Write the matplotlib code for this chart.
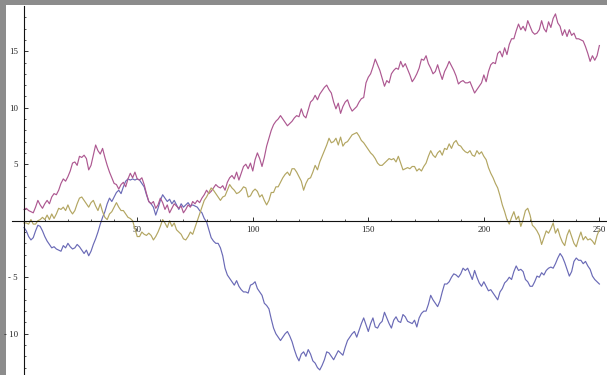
import numpy as np
import matplotlib
matplotlib.use("Agg")
import matplotlib.pyplot as plt
from matplotlib.patches import Rectangle
from matplotlib.ticker import FixedLocator, FixedFormatter

# Three random-walk paths, one value per step (steps 1..250)
walk_blue = [
    -0.6, -0.9, -1.4, -1.7, -1.5, -0.9, -0.4, -0.5, -0.9, -1.4,
    -1.8, -2.1, -2.4, -2.3, -2.5, -2.6, -2.7, -2.2, -2.4, -2.0,
    -2.3, -2.5, -2.4, -2.1, -2.3, -2.6, -2.9, -2.6, -3.1, -2.7,
    -2.1, -1.6, -1.0, -0.3, 0.3, 0.8, 1.5, 2.0, 1.7, 2.1,
    2.5, 2.7, 2.4, 3.0, 3.5, 3.7, 3.6, 3.7, 3.6, 3.7,
    3.6, 3.3, 3.0, 2.3, 1.7, 1.5, 1.2, 0.5, 1.1, 1.8,
    2.3, 2.0, 1.7, 1.9, 1.5, 1.8, 1.4, 1.0, 1.5, 1.2,
    1.4, 1.6, 1.3, 1.4, 1.3, 1.2, 0.9, 0.7, 0.2, -0.1,
    -0.8, -1.5, -1.8, -2.0, -2.0, -2.4, -3.1, -4.2, -4.8, -5.1,
    -5.4, -5.7, -5.3, -5.8, -6.1, -6.3, -6.3, -6.4, -5.7, -5.6,
    -5.4, -6.0, -6.3, -6.6, -7.3, -7.5, -7.8, -8.7, -9.5, -10.0,
    -10.3, -10.6, -10.3, -10.0, -9.8, -10.2, -10.7, -11.4, -12.0, -12.4,
    -11.8, -11.6, -12.0, -11.4, -11.8, -12.4, -12.6, -13.0, -13.2, -12.8,
    -12.3, -11.6, -11.7, -12.0, -12.3, -11.9, -11.5, -11.7, -11.9, -11.2,
    -10.6, -10.3, -10.0, -9.8, -10.3, -9.7, -9.1, -8.6, -9.2, -9.8,
    -9.1, -8.6, -9.4, -9.5, -9.1, -8.9, -8.1, -8.6, -9.1, -9.5,
    -8.8, -8.5, -8.9, -9.0, -8.3, -8.5, -8.9, -9.0, -9.1, -8.8,
    -9.4, -8.6, -8.2, -8.0, -8.0, -7.4, -6.6, -7.0, -7.3, -7.6,
    -7.1, -6.3, -5.6, -5.6, -5.4, -5.0, -4.7, -4.8, -5.0, -4.7,
    -4.2, -4.4, -4.2, -4.7, -5.2, -4.4, -5.0, -5.5, -5.8, -5.4,
    -5.8, -6.2, -6.1, -6.4, -6.7, -7.0, -6.3, -6.0, -5.5, -5.3,
    -5.0, -5.2, -4.5, -4.0, -4.4, -4.3, -4.5, -5.2, -5.4, -5.8,
    -5.8, -5.4, -4.9, -5.0, -4.6, -4.8, -4.4, -4.2, -4.1, -4.2,
    -3.8, -3.3, -2.9, -3.2, -3.7, -4.3, -4.9, -4.5, -3.6, -3.3,
    -3.5, -3.5, -3.8, -3.6, -4.0, -4.3, -4.9, -5.2, -5.4, -5.6,
]

walk_magenta = [
    1.0, 1.1, 0.9, 0.8, 0.7, 1.2, 1.8, 1.4, 1.1, 1.5,
    1.8, 1.5, 2.1, 2.4, 2.3, 2.7, 3.3, 3.7, 3.5, 3.9,
    4.4, 5.1, 5.2, 4.9, 5.7, 5.6, 5.8, 5.5, 4.5, 4.9,
    5.8, 6.7, 6.2, 5.9, 6.4, 5.6, 4.9, 4.3, 3.8, 3.3,
    3.2, 2.8, 3.2, 3.4, 3.0, 3.7, 4.2, 3.8, 4.3, 3.7,
    3.6, 3.8, 3.2, 2.4, 1.7, 1.5, 1.7, 1.1, 1.4, 2.0,
    1.6, 1.0, 1.4, 0.7, 1.1, 1.5, 1.3, 1.1, 1.3, 0.7,
    1.0, 1.4, 1.2, 1.7, 1.5, 1.8, 1.6, 2.0, 2.3, 2.7,
    2.4, 2.6, 2.9, 3.2, 3.0, 2.9, 3.1, 2.7, 3.4, 3.8,
    4.0, 3.7, 4.3, 3.6, 4.2, 4.8, 5.0, 4.6, 5.1, 4.4,
    5.4, 6.0, 5.5, 4.8, 5.6, 6.6, 7.3, 8.0, 8.5, 8.8,
    9.0, 9.3, 9.0, 8.7, 8.4, 8.6, 8.8, 9.1, 9.3, 9.2,
    9.9, 9.3, 9.1, 9.8, 10.5, 10.7, 11.1, 10.7, 11.2, 11.5,
    11.8, 12.0, 11.6, 11.3, 10.5, 9.9, 10.4, 9.5, 10.1, 10.5,
    10.7, 10.1, 9.7, 9.9, 10.1, 10.5, 10.8, 10.9, 12.2, 12.7,
    13.0, 13.6, 14.3, 13.8, 13.3, 12.6, 11.9, 12.4, 12.2, 13.0,
    13.3, 13.5, 13.4, 14.1, 13.6, 13.9, 13.4, 12.9, 12.3, 12.6,
    13.0, 13.5, 14.3, 14.2, 14.6, 13.9, 13.5, 13.0, 13.2, 13.8,
    13.1, 12.5, 13.2, 13.6, 14.1, 13.7, 13.3, 12.8, 12.1, 12.3,
    12.4, 12.2, 12.2, 12.3, 11.8, 11.3, 11.6, 11.9, 12.2, 12.9,
    12.3, 13.2, 13.8, 14.0, 13.9, 14.8, 15.0, 14.5, 15.3, 14.7,
    15.6, 16.1, 16.1, 16.8, 17.4, 16.9, 17.2, 16.8, 17.7, 17.2,
    16.7, 16.5, 16.6, 16.9, 17.7, 17.0, 16.7, 17.6, 17.1, 17.9,
    18.3, 17.5, 17.2, 16.4, 16.9, 16.3, 16.9, 16.4, 16.6, 16.1,
    16.1, 16.0, 15.9, 15.4, 14.8, 14.1, 14.6, 14.2, 14.6, 15.5,
]

walk_olive = [
    -0.2, -0.2, -0.3, 0.1, -0.3, -0.3, 0.0, 0.1, 0.3, 0.1,
    0.5, 0.1, 0.6, 0.2, 0.6, 1.1, 1.0, 1.2, 0.9, 1.4,
    0.9, 0.6, 0.9, 1.5, 2.0, 2.1, 1.8, 1.5, 1.2, 1.6,
    1.8, 1.3, 0.9, 1.5, 0.8, 0.3, 0.1, 0.6, 0.8, 1.2,
    1.6, 1.2, 0.9, 0.9, 0.6, 0.3, 0.2, 0.0, -0.7, -1.4,
    -1.4, -1.0, -1.2, -1.3, -1.1, -1.3, -1.7, -1.4, -1.0, -0.5,
    0.1, -0.2, -0.6, 0.0, -0.5, -0.2, -0.8, -1.0, -1.2, -1.6,
    -1.7, -1.4, -1.0, -1.2, -0.6, 0.0, 0.6, 1.2, 1.8, 2.1,
    2.5, 2.9, 2.7, 2.4, 2.1, 1.8, 2.1, 2.2, 2.7, 3.2,
    2.9, 2.7, 2.4, 2.5, 2.7, 3.0, 2.9, 2.1, 2.2, 2.6,
    2.8, 2.6, 2.1, 2.3, 1.8, 1.4, 1.8, 2.5, 2.5, 3.0,
    3.0, 3.4, 3.8, 4.1, 4.3, 4.0, 4.6, 4.6, 4.3, 3.9,
    3.5, 2.7, 3.3, 3.7, 3.8, 4.3, 4.9, 4.5, 5.2, 5.7,
    6.2, 6.7, 7.3, 6.9, 7.0, 7.3, 6.7, 7.4, 6.6, 6.9,
    7.0, 7.3, 7.6, 7.7, 7.8, 7.5, 7.1, 6.9, 6.6, 6.3,
    6.0, 5.8, 5.5, 5.1, 4.9, 4.9, 5.1, 5.3, 5.5, 5.4,
    5.5, 5.2, 5.7, 5.1, 4.5, 4.6, 4.7, 4.6, 4.8, 4.8,
    4.4, 4.6, 4.4, 4.8, 5.1, 5.7, 6.2, 5.8, 5.6, 6.0,
    6.2, 5.8, 6.4, 6.3, 6.8, 6.4, 6.9, 7.1, 6.7, 6.6,
    6.3, 6.1, 6.0, 6.2, 5.8, 5.7, 6.2, 5.9, 6.1, 5.7,
    5.4, 4.7, 4.2, 3.8, 3.3, 2.9, 2.2, 1.4, 0.8, 0.1,
    -0.3, 0.3, 0.8, 0.1, 0.4, -0.5, 0.1, 0.9, 1.1, 0.5,
    -0.4, -0.6, -0.9, -1.3, -2.1, -1.5, -0.9, -1.1, -0.7, -0.2,
    -1.1, -0.7, -1.4, -1.9, -2.2, -1.3, -0.8, -1.4, -2.0, -2.3,
    -1.6, -1.0, -1.7, -1.4, -1.7, -1.6, -1.8, -2.1, -1.3, -0.8,
]

steps = np.arange(1, len(walk_blue) + 1)

x_major = [50, 100, 150, 200, 250]
x_minor = [v for v in range(10, 250, 10) if v % 50]
y_major = [-10, -5, 5, 10, 15]
y_major_labels = ["- 10", "- 5", "5", "10", "15"]
y_minor = [v for v in range(-13, 19) if v % 5]

fig = plt.figure(figsize=(6.07, 3.75), dpi=100, facecolor="#8c8c8c")
# white drawing area framed by the grey border on the left and top
fig.patches.append(Rectangle((6 / 607, 0), 601 / 607, 370 / 375,
                             transform=fig.transFigure, facecolor="white",
                             edgecolor="none", zorder=-1))

ax = fig.add_axes([0, 0, 1, 1])
ax.set_facecolor("none")
ax.set_zorder(1)

ax.plot(steps, walk_blue, color="#6a6ab6", lw=0.85)
ax.plot(steps, walk_magenta, color="#ad5891", lw=0.85)
ax.plot(steps, walk_olive, color="#b3a662", lw=0.85)

ax.set_xlim(-9.39, 253.3)
ax.set_ylim(-13.65, 19.53)

for side in ("top", "right"):
    ax.spines[side].set_visible(False)
ax.spines["left"].set_position(("data", 1))
ax.spines["left"].set_bounds(-14, 19.0)
ax.spines["bottom"].set_position(("data", 0))
ax.spines["bottom"].set_bounds(-4.3, 254)
for side in ("left", "bottom"):
    ax.spines[side].set_linewidth(0.8)
    ax.spines[side].set_color("#111111")

ax.xaxis.set_major_locator(FixedLocator(x_major))
ax.xaxis.set_minor_locator(FixedLocator(x_minor))
ax.yaxis.set_major_locator(FixedLocator(y_major))
ax.yaxis.set_major_formatter(FixedFormatter(y_major_labels))
ax.yaxis.set_minor_locator(FixedLocator(y_minor))

ax.tick_params(which="major", direction="in", length=3.0, width=0.6,
               color="#111111", labelsize=6.3, labelcolor="#222222")
ax.tick_params(which="minor", direction="in", length=1.7, width=0.5,
               color="#111111")
ax.tick_params(axis="x", which="major", pad=3.5)
ax.tick_params(axis="y", which="major", pad=4.5)
for lab in ax.get_xticklabels() + ax.get_yticklabels():
    lab.set_fontfamily("Liberation Serif")

fig.savefig("out.png", dpi=100, facecolor=fig.get_facecolor())
